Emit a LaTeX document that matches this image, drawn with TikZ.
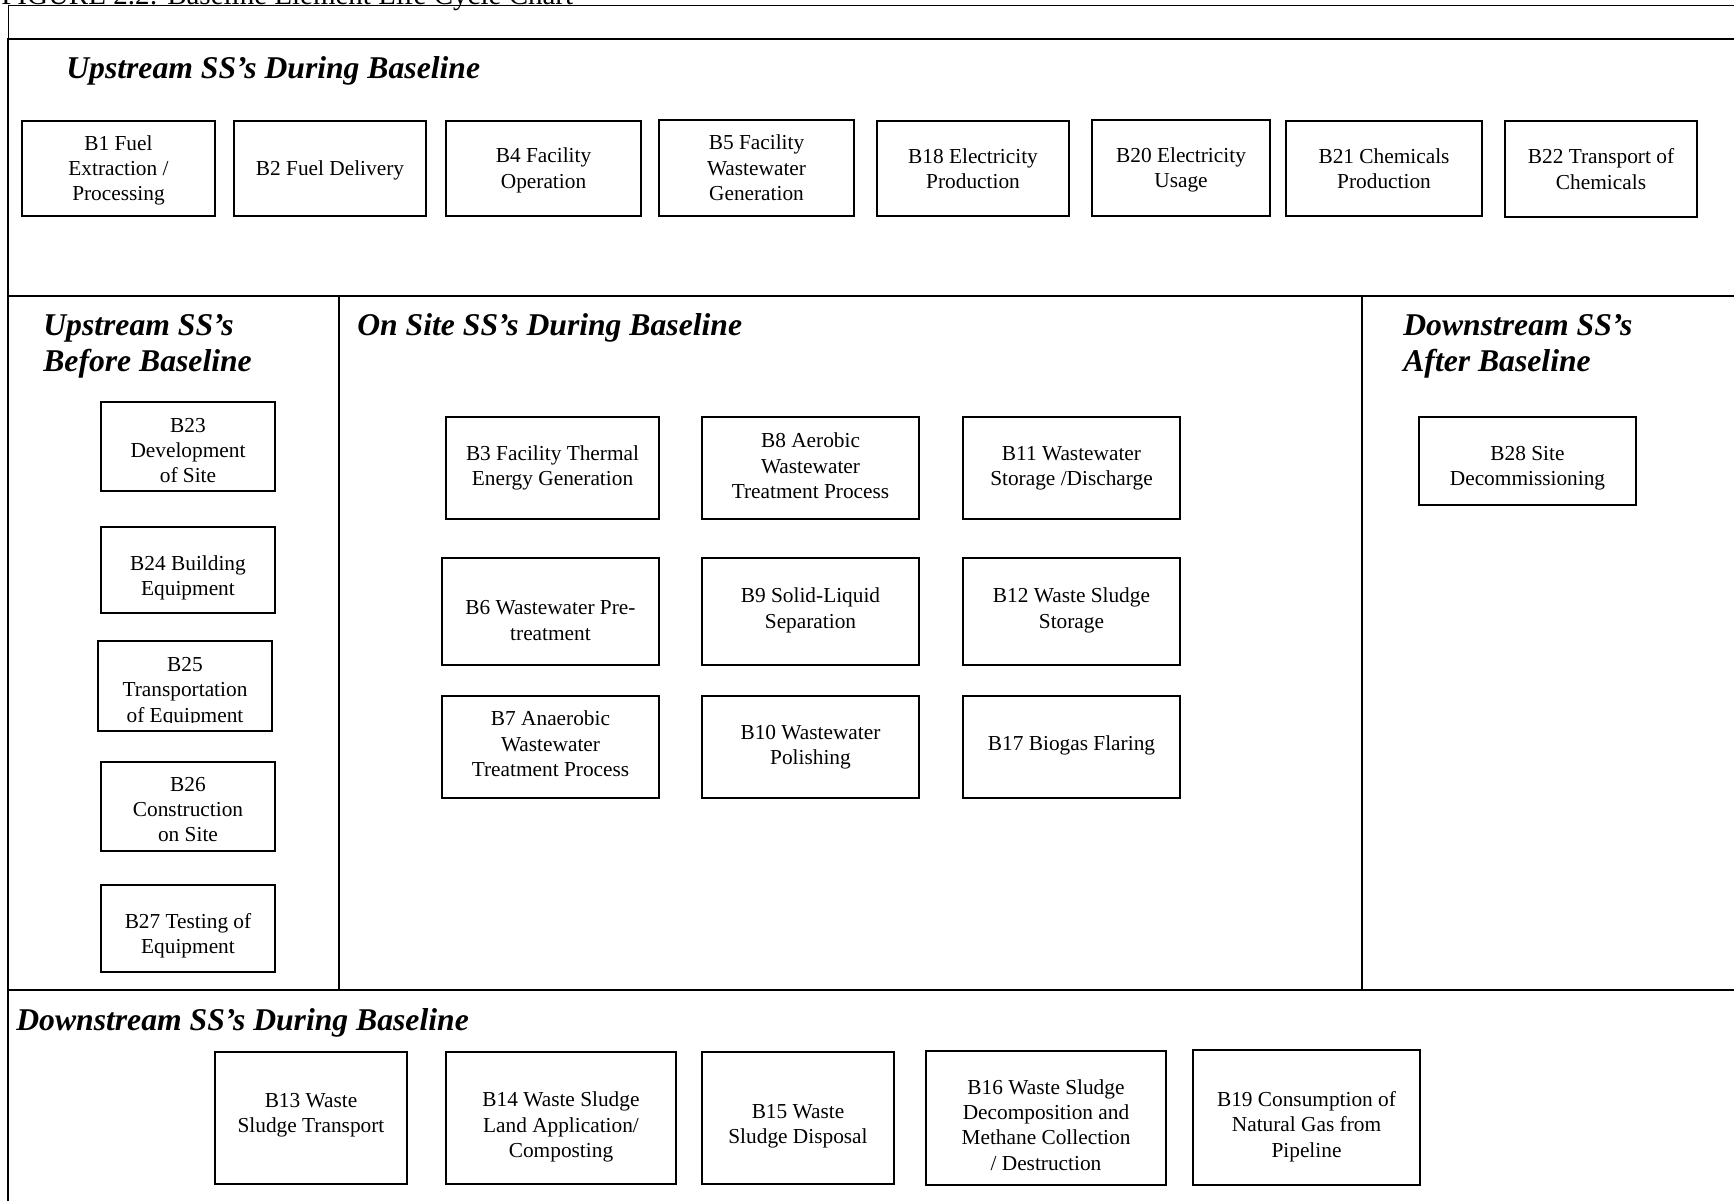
\documentclass[tikz,border=0pt]{standalone}
\usepackage{fontspec}
\setmainfont{Liberation Serif}

\tikzset{
  ssbox/.style={draw, line width=0.7pt, inner sep=0pt},
  sstext/.style={inner sep=0pt, align=center, font=\fontsize{12.8}{15.2}\selectfont},
  sshead/.style={anchor=base west, inner sep=0pt, align=left,
                 font=\fontsize{19}{21.5}\selectfont\bfseries\itshape},
  frameline/.style={line width=1pt},
}

% box from its corners (in picture pixels), text moved down by [#1]
\newcommand{\ssnode}[7][0]{%
  \pgfmathsetmacro{\ssw}{(#5-#3)*0.6}%
  \pgfmathsetmacro{\ssh}{(#6-#4)*0.6}%
  \node[ssbox, minimum width=\ssw pt, minimum height=\ssh pt] (#2)
    at ({(#3+#5)/2},{(#4+#6)/2}) {};
  \node[sstext] (#2t) at ({(#3+#5)/2},{(#4+#6)/2+#1}) {#7};}

\begin{document}
\begin{tikzpicture}[x=0.6pt,y=-0.6pt]
  \useasboundingbox (0,0) rectangle (1734,1201);
  \clip (0,0) rectangle (1734,1201);

  % caption, cut by the top edge
  \node[anchor=base west, inner sep=0pt, font=\fontsize{17.4}{20}\selectfont] (title) at (1,4)
    {FIGURE 2.2: Baseline Element Life Cycle Chart};

  % frame and dividers
  \draw[line width=0.6pt] (8,40) -- (8,5) -- (1734,5);
  \draw[frameline] (8,1201) -- (8,39) -- (1734,39);
  \draw[frameline] (8,296) -- (1734,296);
  \draw[frameline] (8,990) -- (1734,990);
  \draw[frameline] (339,296) -- (339,990);
  \draw[frameline] (1362,296) -- (1362,990);

  % headings
  \node[sshead] (hUp)   at (66,78)   {Upstream SS’s During Baseline};
  \node[sshead] (hBef)  at (43,371)  {Upstream SS’s\\Before Baseline};
  \node[sshead] (hOn)   at (357,335) {On Site SS’s During Baseline};
  \node[sshead] (hAft)  at (1403,371) {Downstream SS’s\\After Baseline};
  \node[sshead] (hDown) at (16,1030) {Downstream SS’s During Baseline};

  % upstream during baseline
  \ssnode[2]{b1}{22}{121}{215}{216}{B1 Fuel\\Extraction /\\Processing}
  \ssnode[2]{b2}{234}{121}{426}{216}{B2 Fuel Delivery}
  \ssnode[2]{b4}{446}{121}{641}{216}{B4 Facility\\Operation}
  \ssnode{b5}{659}{120}{854}{216}{B5 Facility\\Wastewater\\Generation}
  \ssnode{b18}{877}{121}{1069}{216}{B18 Electricity\\Production}
  \ssnode[2]{b20}{1092}{120}{1270}{216}{B20 Electricity\\Usage}
  \ssnode{b21}{1286}{121}{1482}{216}{B21 Chemicals\\Production}
  \ssnode{b22}{1505}{121}{1697}{217}{B22 Transport of\\Chemicals}

  % upstream before baseline
  \ssnode[4]{b23}{101}{402}{275}{491}{B23\\Development\\of Site}
  \ssnode[8]{b24}{101}{527}{275}{613}{B24 Building\\Equipment}
  \node[ssbox, minimum width=104.4pt, minimum height=54pt] (b25) at (185,686) {};
  \begin{scope}
    \clip (98,641) rectangle (272,722);
    \node[sstext] (b25t) at (185,692) {B25\\Transportation\\of Equipment};
  \end{scope}
  \ssnode[3]{b26}{101}{762}{275}{851}{B26\\Construction\\on Site}
  \ssnode[7]{b27}{101}{885}{275}{972}{B27 Testing of\\Equipment}

  % on site during baseline
  \ssnode{b3}{446}{417}{659}{519}{B3 Facility Thermal\\Energy Generation}
  \ssnode[-2]{b8}{702}{417}{919}{519}{B8 Aerobic\\Wastewater\\Treatment Process}
  \ssnode{b11}{963}{417}{1180}{519}{B11 Wastewater\\Storage /Discharge}
  \ssnode[9]{b6}{442}{558}{659}{665}{B6 Wastewater Pre-\\treatment}
  \ssnode[-1]{b9}{702}{558}{919}{665}{B9 Solid-Liquid\\Separation}
  \ssnode[-1]{b12}{963}{558}{1180}{665}{B12 Waste Sludge\\Storage}
  \ssnode[-3]{b7}{442}{696}{659}{798}{B7 Anaerobic\\Wastewater\\Treatment Process}
  \ssnode{b10}{702}{696}{919}{798}{B10 Wastewater\\Polishing}
  \ssnode[-2]{b17}{963}{696}{1180}{798}{B17 Biogas Flaring}

  % downstream after baseline
  \ssnode[7]{b28}{1419}{417}{1636}{505}{B28 Site\\Decommissioning}

  % downstream during baseline
  \ssnode[-3]{b13}{215}{1052}{407}{1184}{B13 Waste\\Sludge Transport}
  \ssnode[9]{b14}{446}{1052}{676}{1184}{B14 Waste Sludge\\Land Application/\\Composting}
  \ssnode[8]{b15}{702}{1052}{894}{1184}{B15 Waste\\Sludge Disposal}
  \ssnode[7]{b16}{926}{1051}{1166}{1185}{B16 Waste Sludge\\Decomposition and\\Methane Collection\\/ Destruction}
  \ssnode[9]{b19}{1193}{1050}{1420}{1185}{B19 Consumption of\\Natural Gas from\\Pipeline}
\end{tikzpicture}
\end{document}
